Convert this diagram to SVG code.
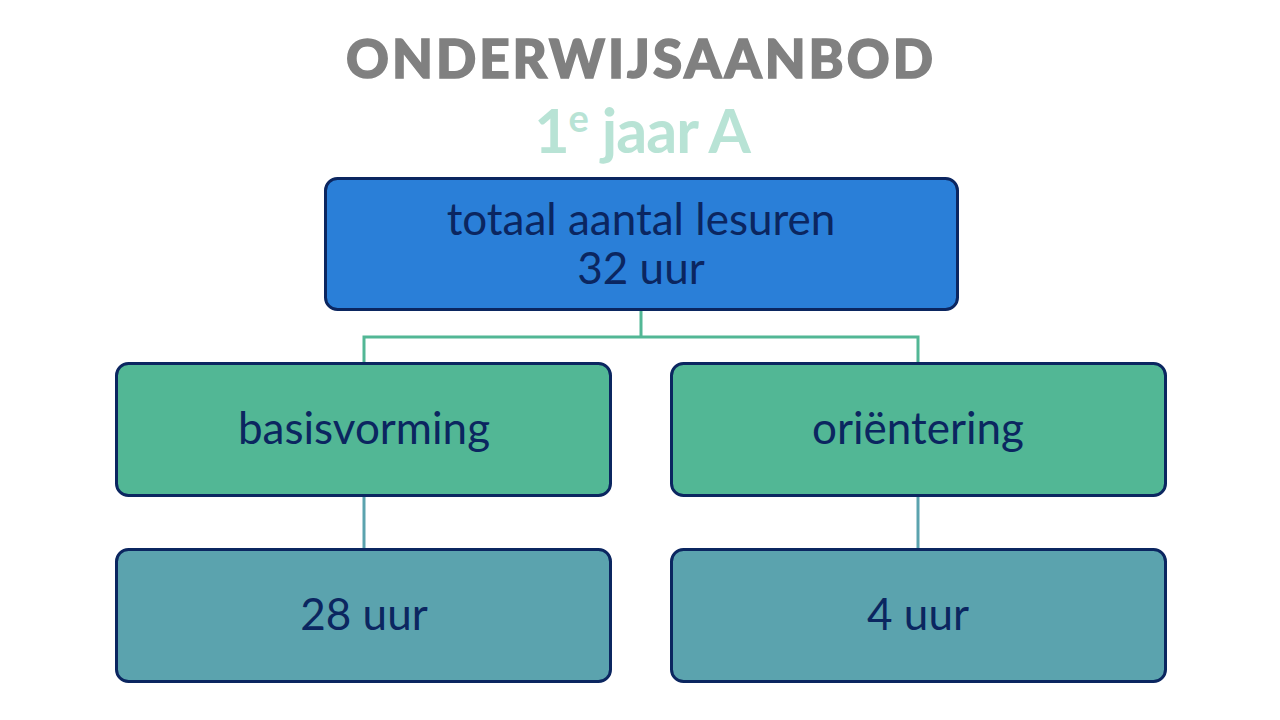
<svg xmlns="http://www.w3.org/2000/svg" width="1280" height="720" viewBox="0 0 1280 720">
<style>
.box{stroke:#0b2660;stroke-width:3}
.lbl{font-family:Lato,"Open Sans",sans-serif;font-size:44px;fill:#0b2660;text-anchor:middle}
.c1{fill:none;stroke:#52b795;stroke-width:3}
.c2{fill:none;stroke:#5ba3ae;stroke-width:3}
</style>
<rect width="1280" height="720" fill="#ffffff"/>
<text x="641" y="78" font-family="Lato,'DejaVu Sans',sans-serif" font-weight="900" font-size="53" fill="#808080" stroke="#808080" stroke-width="1.5" text-anchor="middle" letter-spacing="3" textLength="590" lengthAdjust="spacingAndGlyphs">ONDERWIJSAANBOD</text>
<text x="642" y="153" font-family="Lato,sans-serif" font-weight="700" font-size="61" fill="#b8e3d5" text-anchor="middle" letter-spacing="-1">1<tspan font-size="38" dy="-21">e</tspan><tspan dy="21"> jaar A</tspan></text>
<g id="connectors">
<path class="c1" d="M641 310 V337 H364 V363 M641 337 H918 V363"/>
<path class="c2" d="M364 496 V549"/>
<path class="c2" d="M918 496 V549"/>
</g>
<g id="totaal">
<rect class="box" x="325.5" y="178.5" width="632" height="131" rx="12" fill="#2a7fd8"/>
<text class="lbl" x="641" y="235">totaal aantal lesuren</text>
<text class="lbl" x="641" y="284">32 uur</text>
</g>
<g id="basisvorming">
<rect class="box" x="116.5" y="363.5" width="494" height="132" rx="12" fill="#52b795"/>
<text class="lbl" x="364" y="444">basisvorming</text>
</g>
<g id="orientering">
<rect class="box" x="671.5" y="363.5" width="494" height="132" rx="12" fill="#52b795"/>
<text class="lbl" x="918" y="444">oriëntering</text>
</g>
<g id="uur28">
<rect class="box" x="116.5" y="549.5" width="494" height="132" rx="12" fill="#5ba3ae"/>
<text class="lbl" x="364" y="630">28 uur</text>
</g>
<g id="uur4">
<rect class="box" x="671.5" y="549.5" width="494" height="132" rx="12" fill="#5ba3ae"/>
<text class="lbl" x="918" y="630">4 uur</text>
</g>
</svg>
